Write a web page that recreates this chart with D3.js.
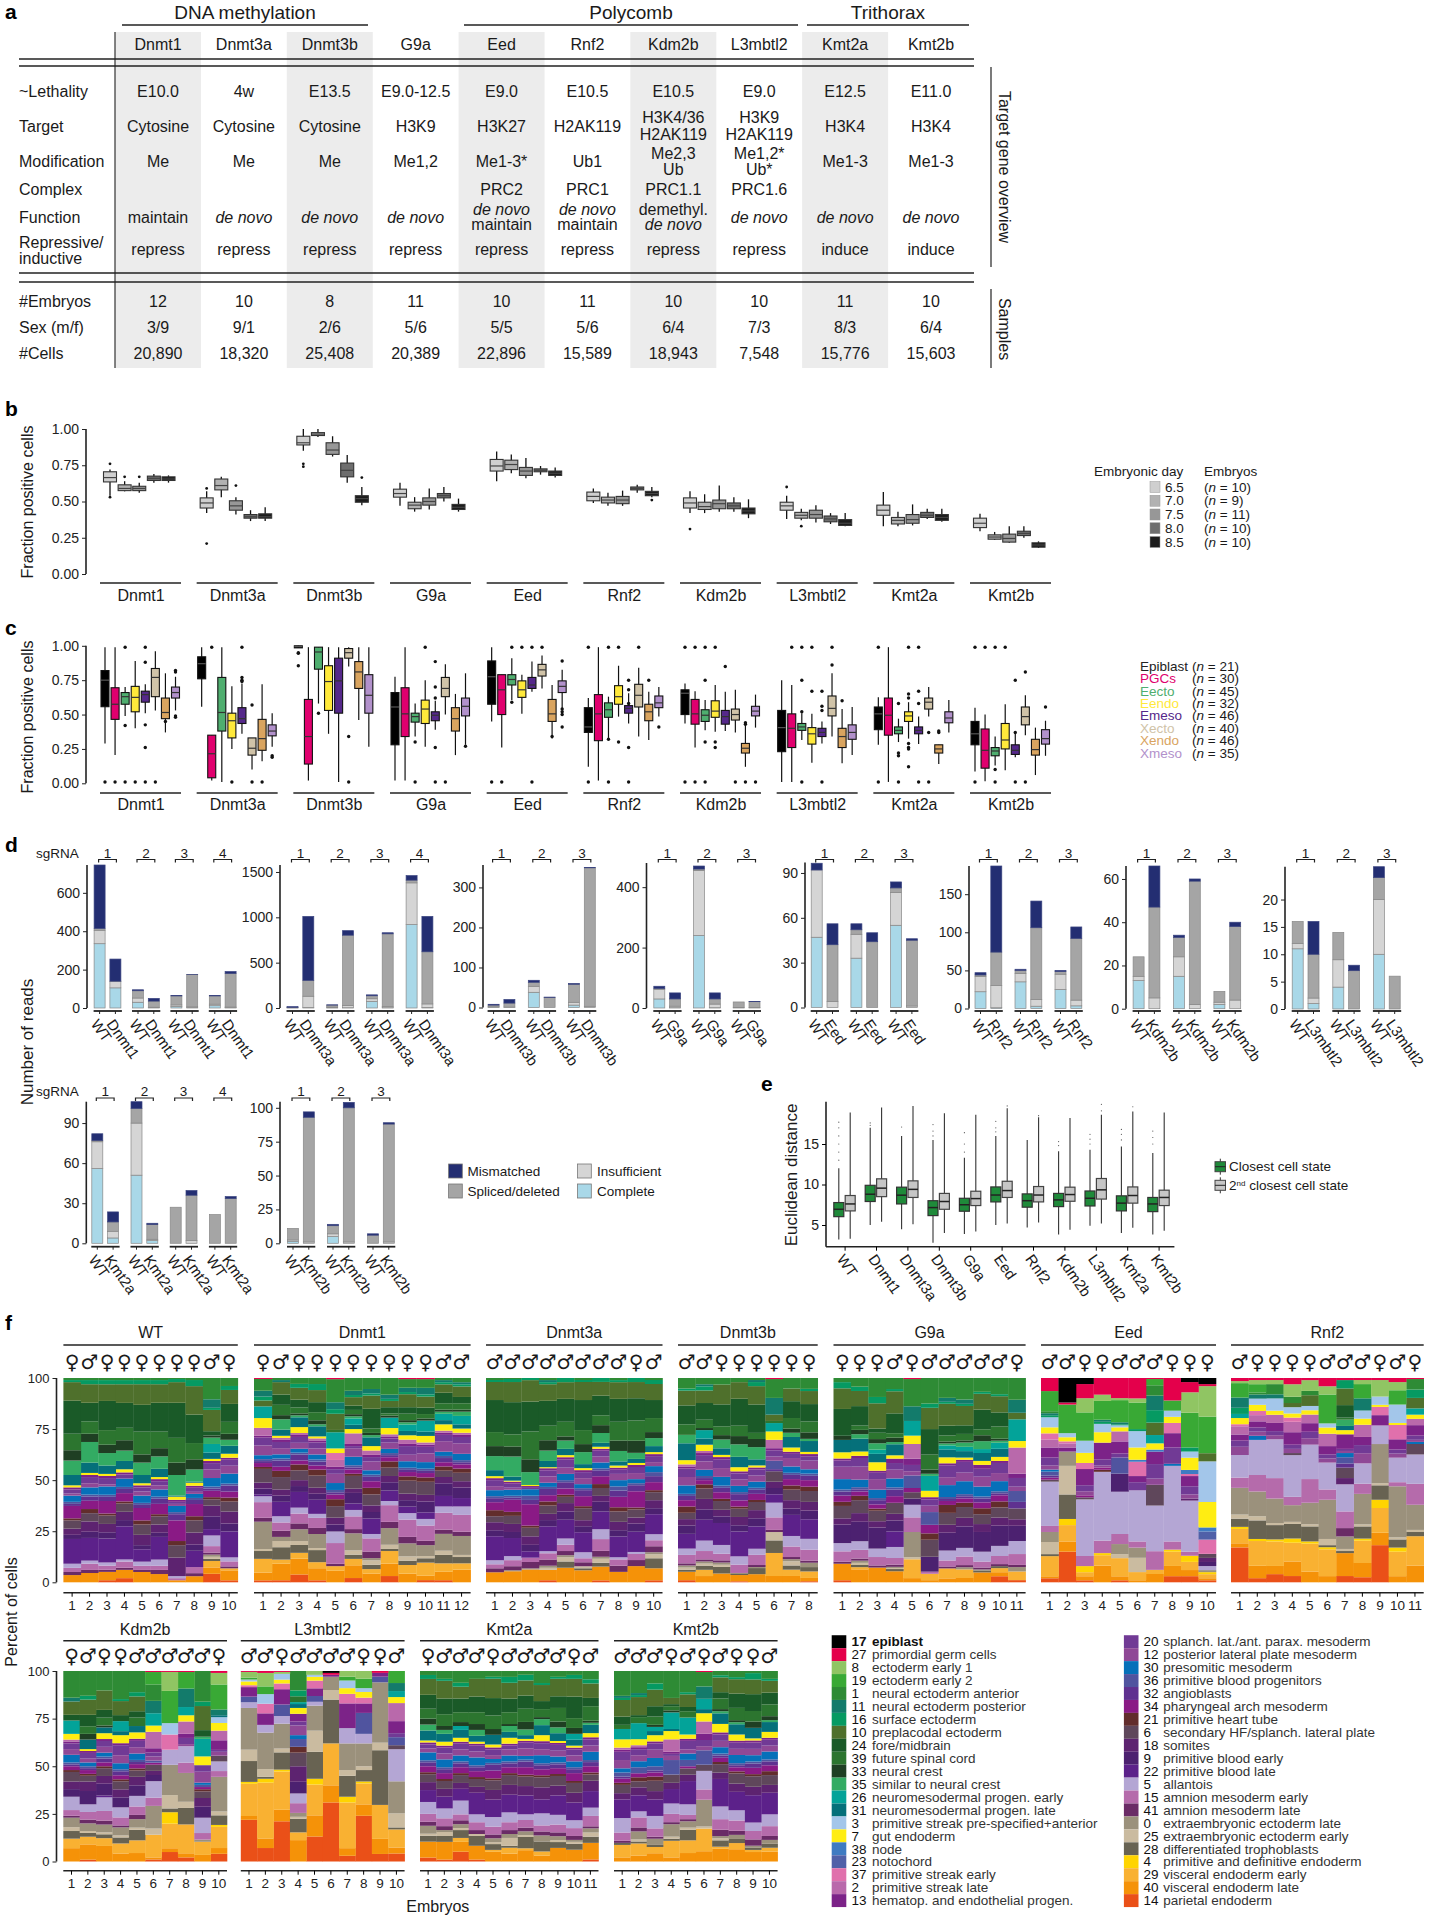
<!DOCTYPE html>
<html><head><meta charset="utf-8"><style>html,body{margin:0;padding:0;background:#fff}svg{display:block}text{font-family:"Liberation Sans",Arial,sans-serif;fill:#1a1a1a}</style>
<script src="https://cdn.jsdelivr.net/npm/d3@7"></script></head><body><script>
// ---------- panel a ----------
const genes=["Dnmt1","Dnmt3a","Dnmt3b","G9a","Eed","Rnf2","Kdm2b","L3mbtl2","Kmt2a","Kmt2b"];
const aGroups=["DNA methylation","Polycomb","Trithorax"];
const aLethality=["E10.0","4w","E13.5","E9.0-12.5","E9.0","E10.5","E10.5","E9.0","E12.5","E11.0"];
const aTarget=["Cytosine","Cytosine","Cytosine","H3K9","H3K27","H2AK119","H3K4/36|H2AK119","H3K9|H2AK119","H3K4","H3K4"];
const aModification=["Me","Me","Me","Me1,2","Me1-3*","Ub1","Me2,3|Ub","Me1,2*|Ub*","Me1-3","Me1-3"];
const aComplex=["","","","","PRC2","PRC1","PRC1.1","PRC1.6","",""];
const aFunction=["maintain","de novo","de novo","de novo","de novo|maintain","de novo|maintain","demethyl.|de novo","de novo","de novo","de novo"];
const aRepress=["repress","repress","repress","repress","repress","repress","repress","repress","induce","induce"];
const aEmbryos=["12","10","8","11","10","11","10","10","11","10"];
const aSex=["3/9","9/1","2/6","5/6","5/5","5/6","6/4","7/3","8/3","6/4"];
const aCells=["20,890","18,320","25,408","20,389","22,896","15,589","18,943","7,548","15,776","15,603"];
// ---------- panel b: q1, median, q3, low, high, outliers ----------
const bDays=["6.5","7.0","7.5","8.0","8.5"];
const bN=["10","  9","11","10","10"];
const bColors=["#cfcfcf","#b2b2b2","#979797","#6e6e6e","#1c1c1c"];
const bDnmt1=[[.635,.665,.705,.54,.72,.76,.53],[.575,.59,.615,.57,.64,.67],[.575,.59,.605,.56,.63,.67],[.645,.66,.675,.63,.69],[.645,.655,.67,.63,.68]];
const bDnmt3a=[[.455,.49,.525,.42,.57,.59,.21],[.58,.61,.655,.53,.67],[.44,.47,.505,.41,.53,.61],[.385,.395,.41,.365,.44],[.385,.395,.415,.365,.46]];
const bDnmt3b=[[.89,.905,.95,.85,1,.74,.76],[.955,.965,.975,.945,1],[.825,.855,.905,.81,.95],[.67,.715,.765,.63,.82],[.495,.52,.54,.475,.6,.665]];
const bG9a=[[.53,.555,.585,.47,.63],[.45,.475,.495,.43,.53],[.475,.5,.525,.445,.59],[.525,.54,.555,.5,.6],[.445,.46,.48,.43,.52]];
const bEed=[[.71,.745,.79,.64,.845],[.72,.755,.785,.695,.825],[.68,.71,.735,.66,.8],[.705,.715,.725,.685,.745],[.68,.695,.71,.665,.735]];
const bRnf2=[[.505,.535,.565,.49,.59],[.49,.51,.53,.47,.56],[.485,.51,.535,.47,.575],[.58,.59,.6,.56,.615],[.54,.555,.57,.53,.6,.51]];
const bKdm2b=[[.455,.49,.525,.42,.57,.31],[.445,.465,.495,.42,.55],[.45,.485,.51,.43,.61],[.45,.47,.49,.43,.53],[.415,.435,.455,.385,.515]];
const bL3mbtl2=[[.44,.47,.495,.38,.54,.6],[.385,.405,.425,.37,.45,.33],[.385,.41,.44,.355,.475],[.36,.38,.4,.345,.42],[.335,.35,.375,.33,.42]];
const bKmt2a=[[.405,.44,.475,.33,.565],[.345,.37,.39,.33,.43],[.35,.375,.41,.335,.48],[.39,.405,.425,.38,.45],[.37,.39,.41,.36,.45]];
const bKmt2b=[[.32,.35,.385,.295,.415],[.24,.255,.27,.235,.29],[.22,.245,.275,.215,.33],[.265,.28,.295,.25,.33],[.185,.2,.215,.18,.225]];
const bSeries=[bDnmt1,bDnmt3a,bDnmt3b,bG9a,bEed,bRnf2,bKdm2b,bL3mbtl2,bKmt2a,bKmt2b];
// ---------- panel c ----------
const cTypes=["Epiblast","PGCs","Eecto","Eendo","Emeso","Xecto","Xendo","Xmeso"];
const cLegendLabels=["Epiblast","PGCs","Eecto","Eendo","Emeso","Xecto","Xendo","Xmeso"];
const cN=["21","30","45","32","46","40","46","35"];
const cColors=["#000000","#e0006e","#4fae6f","#ffe93b","#55288a","#d0c3a8","#d9a45f","#b291cb"];
const cDnmt1=[[.557,.75,.82,.29,.99,.01],[.465,.575,.695,.205,.99,.01],[.575,.63,.66,.49,.7,.99,.42,.01],[.52,.625,.705,.4,.89,.01],[.59,.645,.67,.51,.72,.99,.88,.425,.26,.01],[.63,.77,.835,.53,.96,.01],[.47,.515,.62,.37,.8,.45],[.62,.66,.7,.53,.775,.82,.81,.49,.48]];
const cDnmt3a=[[.76,.87,.92,.557,.99],[.04,.215,.35,.02,.35,.99],[.38,.515,.77,.01,.99],[.33,.455,.51,.25,.705,.01],[.435,.47,.55,.36,.725,.99,.77,.75,.74],[.205,.255,.33,.1,.33,.57,.01],[.24,.325,.465,.16,.72,.01],[.345,.38,.425,.265,.51,.2,.19]];
const cDnmt3b=[[.985,.995,1,.985,1,.95,.945,.855],[.14,.34,.61,.02,.99],[.83,.955,.99,.58,.99,.51],[.53,.74,.855,.36,.99],[.51,.745,.91,.01,.99],[.91,.95,.98,.85,.99,.34,.01],[.69,.81,.885,.46,.99,.83,.8,.78,.77,.75],[.51,.64,.79,.265,.99]];
const cG9a=[[.28,.555,.66,.02,.775],[.34,.505,.695,.02,.99],[.445,.485,.51,.34,.58,.3,.01],[.435,.54,.605,.265,.75,.99],[.455,.495,.52,.39,.6,.885,.7,.62,.26,.01],[.63,.69,.77,.5,.865,.01],[.38,.47,.55,.205,.65],[.49,.56,.62,.28,.8,.27]];
const cEed=[[.575,.775,.89,.45,.99,.01],[.5,.68,.79,.26,.79,.01],[.715,.755,.79,.605,.91,.99,.59],[.625,.68,.745,.505,.79,.99],[.69,.715,.77,.665,.885,.99,.01],[.78,.825,.865,.69,.93,.99],[.45,.505,.61,.325,.715,.34],[.66,.705,.745,.545,.825,.89,.54,.52,.5,.41]];
const cRnf2=[[.37,.41,.55,.12,.62,.99,.01],[.31,.505,.645,.02,.99],[.48,.535,.585,.33,.63,.99,.32,.01],[.575,.63,.71,.485,.855,.99,.3],[.51,.545,.565,.435,.655,.75,.68,.58,.26,.01],[.555,.64,.72,.34,.84,.99],[.455,.52,.575,.315,.665,.75],[.55,.585,.635,.485,.7,.41]];
const cKdm2b=[[.5,.655,.68,.435,.725,.99,.01],[.43,.505,.61,.26,.67,.99,.01],[.45,.495,.535,.385,.605,.99,.75,.3,.01],[.48,.525,.6,.375,.715,.99,.3,.26],[.43,.485,.53,.38,.665,.85],[.46,.5,.54,.37,.68,.01],[.22,.255,.29,.12,.425,.44,.43,.01],[.49,.525,.56,.405,.645,.01]];
const cL3mbtl2=[[.23,.405,.53,.01,.75],[.26,.4,.505,.01,.715,.99],[.385,.41,.435,.315,.51,.99,.75,.52,.01],[.285,.36,.405,.15,.505,.99,.67],[.34,.37,.4,.29,.45,.67,.56,.53,.01],[.49,.545,.635,.34,.8,.99,.86],[.26,.34,.4,.145,.54,.6],[.32,.37,.425,.205,.555]];
const cKmt2a=[[.39,.505,.555,.28,.625,.99,.01],[.35,.495,.62,.01,.99],[.36,.385,.41,.3,.47,.58,.22,.2,.01],[.45,.49,.52,.325,.59,.99,.65,.62,.29,.26,.25,.12],[.36,.385,.41,.285,.485,.99,.67,.58,.01],[.54,.59,.62,.485,.7,.37,.01],[.22,.25,.28,.14,.28,.38,.37],[.44,.475,.52,.37,.605]];
const cKmt2b=[[.28,.36,.45,.085,.55,.99,.01],[.11,.24,.395,.015,.5,.99],[.2,.235,.26,.13,.34,.99,.1,.01],[.25,.315,.435,.095,.575,.99],[.21,.24,.28,.19,.37,.75,.37,.01],[.425,.485,.555,.35,.64,.81,.01],[.205,.245,.32,.06,.405],[.285,.325,.39,.2,.455,.555]];
const cSeries=[cDnmt1,cDnmt3a,cDnmt3b,cG9a,cEed,cRnf2,cKdm2b,cL3mbtl2,cKmt2a,cKmt2b];
// ---------- panel d: complete, insufficient, spliced, mismatched ----------
const dKeys=["Complete","Insufficient","Spliced/deleted","Mismatched"];
const dColors=["#a9d8e8","#d5d5d5","#a5a5a5","#232e72"];
const dDnmt1=[[335,70,10,330],[105,33,2,115],[30,22,38,5],[2,2,32,14],[8,8,47,2],[2,4,168,1],[12,8,43,2],[2,3,175,10]];
const dDnmt3a=[[2,2,3,8],[5,125,175,705],[3,7,22,3],[3,25,775,50],[72,30,33,10],[3,15,800,12],[920,460,30,50],[5,40,575,390]];
const dDnmt3b=[[1,1,4,2],[0,1,10,9],[38,15,10,5],[0,0,25,1],[6,7,45,2],[0,3,346,1]];
const dG9a=[[30,32,3,7],[1,5,24,20],[240,215,5,10],[1,12,17,20],[0,2,18,0],[0,2,19,1]];
const dEed=[[47,45,0,4.5],[0,4,38,14],[33,16,3,4],[0,0,44,6],[55,22,3,4],[0,1,44,1]];
const dRnf2=[[22,20,2,3],[1,29,44,113],[35,11,4,1.5],[3,9,94,35],[25,20,3.5,1.5],[3.5,7.5,81,15]];
const dKdm2b=[[13,2,9,0],[0,5,42,19],[15,9,9,1],[0,2,57,1],[2,1,5,0],[0,4,34,2]];
const dL3mbtl2=[[11,1,4,0],[1,1,8,6],[4,5,5,0],[0,0,7,1],[10,10,4,2],[0,0,6,0]];
const dKmt2a=[[56,20,1,5],[4,5,7,7.5],[51,39,11,5],[2,1,11,1],[0,0,27,0],[0,2,34,3.5],[0,0,21.5,0],[0,0,33.5,1.5]];
const dKmt2b=[[1.5,1,8.5,0],[0,1,92,4],[5,2,6,1],[0,1,99,4],[0,0,6,1],[0,1,87,1]];
const dTicks1=[0,200,400,600],dTicks2=[0,500,1000,1500],dTicks3=[0,100,200,300],dTicks4=[0,200,400],dTicks5=[0,30,60,90],dTicks6=[0,50,100,150],dTicks7=[0,20,40,60],dTicks8=[0,5,10,15,20],dTicks9=[0,30,60,90],dTicks10=[0,25,50,75,100];
// ---------- panel e: q1, median, q3, low, high, outliers ----------
const eGroups=["WT","Dnmt1","Dnmt3a","Dnmt3b","G9a","Eed","Rnf2","Kdm2b","L3mbtl2","Kmt2a","Kmt2b"];
const eClosest=[[6.03,6.94,7.77,3.2,12,13,14,15,16,17,17.7],[7.9,8.8,9.9,5,17,17.3,17.6],[7.6,8.68,9.67,4.46,16,17.1],[6.16,7.15,8,2.8,15.5,16,16.6,17.4],[6.7,7.5,8.3,3.9,13.3,14,15,16.4],[7.85,8.7,9.7,5,16,16.5,17,17.8],[7.2,8,8.84,4.7,15.5],[7.27,8.1,8.9,3.84,14.1,14.8,15.3],[7.35,8.3,9.2,4.9,14.3,15,15.6,16.2],[6.74,7.7,8.6,4,14.7,15.5,16.2,16.8],[6.65,7.6,8.4,3.84,13.9,15,15.8,16.6]];
const eSecond=[[6.74,7.6,8.64,3.3,18.9],[8.5,9.55,10.7,5.4,19.5],[8.4,9.4,10.45,5.1,19.7],[6.94,7.9,8.9,4,18.8],[7.4,8.26,9.17,4.2,18.6],[8.4,9.25,10.4,5.2,19.4,19.7],[7.85,8.7,9.75,5.3,18.3,18.5],[7.93,8.76,9.67,4.4,18.2],[8.2,9.34,10.74,5.2,18.6,19.1,19.9],[7.7,8.64,9.7,4.67,19,19.6],[7.4,8.4,9.3,4.3,18.9]];
// ---------- panel f ----------
const stateIds=[17,27,8,19,1,11,16,10,24,39,33,35,26,31,3,7,38,23,37,2,13,20,12,30,36,32,34,21,6,18,9,22,5,15,41,0,25,28,4,29,40,14];
const stateNames=["epiblast","primordial germ cells","ectoderm early 1","ectoderm early 2","neural ectoderm anterior","neural ectoderm posterior","surface ectoderm","preplacodal ectoderm","fore/midbrain","future spinal cord","neural crest","similar to neural crest","neuromesodermal progen. early","neuromesodermal progen. late","primitive streak pre-specified+anterior","gut endoderm","node","notochord","primitive streak early","primitive streak late","hematop. and endothelial progen.","splanch. lat./ant. parax. mesoderm","posterior lateral plate mesoderm","presomitic mesoderm","primitive blood progenitors","angioblasts","pharyngeal arch mesoderm","primitive heart tube","secondary HF/splanch. lateral plate","somites","primitive blood early","primitive blood late","allantois","amnion mesoderm early","amnion mesoderm late","extraembryonic ectoderm late","extraembryonic ectoderm early","differentiated trophoblasts","primitive and definitive endoderm","visceral endoderm early","visceral endoderm late","parietal endoderm"];
const stateColors=["#000000","#e4004b","#90c563","#39a935","#2e8b35","#137b6b","#069a62","#4f702c","#1a5a28","#2c752f","#1f3f23","#33ab63","#03a399","#05707a","#a3c6ea","#ffed12","#3f7bc2","#5060a8","#e070ac","#b969ab","#7c2388","#713a95","#8f4896","#0670b9","#50549f","#5f3190","#8a1a85","#622d2c","#5f475b","#5d2370","#4c2170","#5c218a","#b4a6d4","#b56bab","#6a2b66","#9b917c","#cabba0","#686352","#ffd400","#f9b132","#f59208","#ea5018"];
const fWT=[
[0,0,0,0,1,0,1, 9,16,8,5,7,0,5, 0,1,0,0,0,0, 1,2,1,3,1,1,6, 1,4,3,2,12, 2,2,1.5, 0,0,0, 0,0,3.5,0],
[0,0,0,0,1,0,2, 9,9,6,4,10,0,5, 0,1,0,0,0,0, 1,3,2,3.5,1,2,4, 2,4,5,3,11, 1.5,3,1.5, 0,0,0, 0,0,4.5,0],
[0,0,0,0,1,0,2, 8,14,7,4,6,0,4, 0,1,0,0,0,0, 1,3,1,4,1,2,6, 1,4,4,3,11.5, 1.5,2,1, 0,0,0, 0,0,4,1],
[0,0,0,0,1,0,2, 9,12,6,5,5,0,4, 0,1.5,0,0,0,0, 1,2,0,4,1,2,4, 1,4,4,3,16, 1,3,1, 0,0,0, 0,0,4,2],
[0,0,0,0,1,0,2, 10,13,11,4,6,0,4, 0,1,0,0,0,0, 1,2,2,3.5,1,1.5,6, 2,5,5,2,6, 2,2,1, 0,0,0, 0,0,5,0],
[0,0,0,0,1,0,2, 9,14,8,4,6,0,4, 0,1,0,0,0,0, 1,2,2,3.5,1,2.5,5, 1,4,4,2,11, 3,2,2, 0,0,0, 0,0,4,0],
[0,0,0,0,.5,0,1.5, 10,17,12,6,10,0,.5, 0,1.5,0,0,0,0, 1,1,1,3,1,3,10, 2,6,9,0,0, 1,1,0, 0,0,0, 0,0,1,0],
[0,0,0,0,1,0,3, 14,14,8,5,6,0,.5, 0,1.5,0,0,0,0, 1,2,1,2,1,2,6, 2,6,6,3,8, 0,3,1.5, 0,0,0, 0,0,3,0],
[0,0,0,0,10,4,1, 10,2,0,1,3,4,3, 0,1,0,0,0,0, 1,3,4,4,1,1,3, 1,3,5,6,3, 5,3,1, 1,1,1, 0,3,3,4],
[0,0,0,0,4,0,2, 7,9,6,3,3,0,4, 0,2,0,0,0,0, 1,3,4,5,1,3,3, 2,5,6,4,13, 2,2.5,1, 0,0,0, 0,1,5,1]];
const fDnmt1=[
[0,.5,0,0,6,3,2, 3,0,0,0,0,6,0, 0,5,0,0,0,4, 1,4,5,2,1,1,2, 1,7,3,3,1, 3,8,2, 14,1,4, 0,7,4,1],
[0,0,0,0,1,1,0, 6,5,5,2,5,0,3, 0,1,0,0,0,1, 1,3,3,2,1,3,2, 3,6,3,3,7, 3,4,3, 2,3,6, 0,2,8,1],
[0,0,0,0,3,0,2, 6,4,3,1,1,0,5, 0,3,0,0,0,1, 1,3,3,2,1,3,2, 3,5,3,3,8, 3,5,3, 6,2,4, 0,3,8,4],
[0,0,0,0,3,0,3, 6,5,4,2,1,0,5, 0,1,0,0,0,1, 1,3,3,2.5,1,2,2, 3,6,3,3,7, 2,5,3, 7,1,6, 0,3,6,1],
[0,.5,0,0,10,3,2, 7,0,1,0,0,7,0, 0,2,0,0,3,3, 1,2,4,3,1,1,2, 3,5,3,3,0, 5,9,1, 0,0,0, 0,2,5,0],
[0,0,0,0,6,2,1, 4,2,2,1,1,3,2, 0,2,0,0,0,5, 1,1,4,4,1,1,2, 1,6,2,5,3, 3,6,2, 8,2,2, 0,3,6,2],
[0,0,0,0,5,2,1, 6,9,2,1,1,0,4, 0,2,0,0,0,2, 1,2,4,2,1,2,3, 3,5,3,3,7, 2,6,3, 1,2,2, 0,2,4,0],
[0,0,0,0,8,2,1, 3,3,1,1,0,5,0, 0,3,0,0,0,1, 1,2,3,2,1,1,2, 3,4,3,4,5, 2,8,3, 8,2,1, 0,6,6,3],
[0,.5,0,0,4,2,1, 6,3,3,1,1,3,2, 0,2,0,0,0,2, 1,4,3,3,1,1,2, 2,6,3,3,3, 3,8,3, 6,2,2, 0,4,4,0],
[0,.5,0,0,4,3,1, 5,3,2,1,0,5,2, 0,3,0,0,0,1, 1,3,4,3,1,1,2, 2,6,3,5,3, 3,7,2, 5,1,2, 0,6,2,1],
[0,0,0,0,1,1,1, 4,5,3,1,1,3,2, 0,3,0,0,0,1, 1,3,5,2,1,2,2, 2,3,3,6,5, 3,8,2, 8,2,4, 0,4,4,1],
[0,0,0,0,2,1,1, 5,3,3,1,2,4,2, 0,2,0,0,0,1, 1,3,5,3,1,1,2, 2,4,3,5,4, 4,8,2, 9,1,3, 0,3,6,0]];
const fDnmt3a=[
[0,0,0,0,1,0,1, 9,16,7,5,7,0,3, 0,1,0,0,0,0, 1,3,2,3,1,2,4, 3,3,4,3,12, 2,2,2, 0,0,0, 0,0,5,0],
[0,0,0,0,.5,0,1.5, 10,16,6,5,10,0,2, 0,.5,0,0,0,0, 1,2,1,3,1,1,6, 2,4,4,3,9, 2,3,2, .5,0,0, 0,0,5.5,0],
[0,0,0,0,0,0,1, 10,14,13,6,6,0,0, 0,.5,0,0,0,0, .5,1,0,3,2,2,10, 1,4,4,3,3, 0,2,3, .5,0,0, 0,0,6,0],
[0,0,0,0,1,1,1, 8,12,7,5,5,0,3, 0,.5,0,0,0,0, 1,3,3,2,1,3,3, 2,4,3,3,12, 1,3,3, 1,1,0, 0,0,5,1],
[0,0,0,0,0,0,2, 8,11,7,2,4,0,3, 0,1,0,0,0,0, 1,4,3,3,1,3,3, 1,3,4,4,9, 3,3,2, 1,2,3, 0,0,7,0],
[0,0,0,0,1,0,1, 9,15,7,4,6,0,2, 0,1,0,0,0,0, 1,3,3,2,1,3,5, 1,6,3,3,10, 3,2,2, 0,1,1, 0,0,6,0],
[0,0,0,0,0,0,2, 7,10,5,4,5,0,2, 0,1,0,0,0,0, 1,3,3,3,1,3,4, 2,4,3,5,9, 5,6,3, 1,2,2, 0,0,7,1],
[0,0,0,0,1,0,1, 8,11,9,5,5,0,2, 0,1,0,0,0,0, 1,2,3,3,2,3,5, 2,5,4,3,10, 1,3,3, 0,0,0, 0,0,5,0],
[0,0,0,0,0,0,2, 8,11,10,6,3,0,2, 0,1,0,0,0,0, 1,3,3,2,1,3,8, 1,4,3,4,10, 1,3,3, 0,0,0, 0,0,8,0],
[0,0,0,0,1,0,2, 8,9,7,3,4,0,3, 0,1,0,0,0,0, 1,3,2,3,2,3,4, 1,4,4,3,10, 3,3,3, 1,2,5, 0,0,6,1]];
const fDnmt3b=[
[0,0,0,0,5,0,1, 7,9,5,0,4,0,8, 0,2,0,0,0,1, 1,4,4,4,1,2,3, 3,3,3,4,7, 3,4,1, 1,1,1, 0,0,4,1],
[0,0,0,0,3,1,2, 6,8,4,1,0,4,3, 0,3,0,0,0,1, 1,3,4,3,1,1,2, 2,5,5,5,10, 5,4,1, 1,1,2, 0,3,3,0],
[0,0,0,0,3,0,0, 9,10,4,2,4,0,3, 0,1,0,0,0,0, 1,4,4,4,1,2,3, 1,4,3,3,10, 4,3,1, 1,1,3, 0,0,4,0],
[0,0,0,0,2,0,0, 8,13,5,4,6,0,5, 0,2,0,0,0,0, 1,3,3,3,1,3,3, 1,4,4,3,12, 4,4,0, .5,0,.5, 0,0,3,.5],
[0,0,0,0,1,1,2, 9,14,3,4,6,0,3, 0,1,0,0,0,0, 1,3,3,3,1,2,3, 1,4,4,4,11, 3,5,1, .5,0,3, 0,0,4,0],
[0,.5,0,0,9,8,0, 3,0,1,0,0,4,0, 0,4,0,0,0,4, 1,3,2,0,4,1,0, 0,5,3,3,4, 7,6,1, 0,4,6, 0,11,3,0],
[0,0,0,0,5,0,0, 6,8,5,2,2,0,5, 0,2,0,0,0,0, 1,2,4,3,1,2,3, 2,5,4,3,10, 5,5,1, 1,2,2, 0,3,3,0],
[0,0,0,0,5,0,1, 6,8,5,3,1,0,5, 0,1,0,0,0,0, 1,2,4,2,1,2,3, 2,5,4,4,9, 5,5,1, 2,0,2, 0,3,1.5,.5]];
const fG9a=[
[0,0,0,0,2,0,3, 10,13,0,2,0,0,6, 0,3,0,0,0,0, 1,3,6,5,1,2,3, 2,6,3,9,0, 4,5,1, 0,0,0, 0,0,8,1],
[0,0,0,0,4,0,2, 7,9,2,2,2,0,6, 0,2,0,0,0,0, 1,4,6,3.5,1,1,2, 2,6,4,9,0, 4,4,1, 1,1,1, 0,1,6,0],
[0,0,0,0,9,0,3, 12,2,3,2,3,2,4, 0,4,0,0,0,0, 1,3,5,4,1,2,2, 1,5,3,10,0, 4,4,1, 0,0,0, 0,0,7,0],
[0,0,0,0,5,0,1, 10,9,2,2,1,0,5, 0,1.5,0,0,0,0, 2,3,4,4,1,3,3, 0,5,3,5,7, 5,3,1, .5,.5,1, 0,0,5,0],
[0,.5,0,0,13,7,0, 0,0,0,0,0,7,0, 0,4,0,0,0,7, 3,3,2,0,6,0,2, 0,3,0,3,0, 6,7,0, 12,1,0, 0,9,2,0],
[0,0,0,0,12,0,2, 10,12,7,2,1,7,0, 0,3,0,0,0,0, 1,3,3,0,6,0,4, 3,8,0,7,0, 0,1,0, 0,0,0, 0,3,1,0],
[0,0,0,0,10,2,1, 11,5,3,1,1,2,4, 0,3,0,0,0,0, 1,6,4,6,1,1,2, 4,6,4,9,0, 5,3,1, 0,0,0, 0,5,2,0],
[0,0,0,0,10,2,1, 9,4,3,1,2,2,3, 0,1,0,0,0,0, 1,5,4,6,1,1,2, 2,5,4,10,0, 4,4,1, 1,0,0, 0,4,2,0],
[0,0,0,0,7,0,1, 8,10,3,3,4,2,4, 0,2,0,0,0,0, 2,4,5,5,1,2,3, 3,5,4,10,0, 5,3,1, .5,0,1, 0,0,5,0],
[0,0,0,0,8,0,1, 8,7,6,1,1,3,4, 0,2,0,0,0,0, 1,5,4,5,1,1,3, 3,5,4,10,0, 5,4,1, 0,0,1, 0,2,2,3],
[0,0,0,0,10,6,0, 3,0,0,0,0,10,0, 0,3,0,0,0,12, 2,4,2,0,5,3,0, 0,5,3,7,0, 6,5,1, 2,0,0, 0,4,0,1]];
const fEed=[
[0,6.5,0,10,1,1,1, 0,0,0,0,0,0,0, 5,3,0,0,3,4, 5,4,2,1,2,1,1, 0,1,0,0,0, 22,3,0, 5,6,1, 0,10,1,2],
[12,1,0,14,0,0,0, 0,0,0,0,0,0,0, 2,2,0,0,1,2, 2,0,0,0,0,0,0, 0,0,0,0,0, 0,0,0, 7,14,12, 3,8,5,15],
[3,7,7,14,0,0,0, 0,0,0,0,0,0,0, 6,5,0,0,3,0, 8,3,2,0,0,0,1, 0,1,0,0,0, 28,5,0, 0,0,0, 3,2,2,1],
[0,8,3,9,0,1,1, 0,0,0,0,0,0,0, 4,5,0,0,0,0, 8,3,1,0,0,0,1, 1,0,0,0,0, 33,6,0, 0,0,0, 1,5,8,0],
[0,10,1,11,0,1,.5, 0,0,0,0,0,0,0, 1,2,0,0,0,5, 6,2,0,0,8,0,0, 0,0,0,9,0, 21,5,0, 5,2,0, 0,9,2,1],
[0,10,2,13,0,0,1, 0,0,0,0,0,0,0, 8,6,1,0,7,0, 3,4,0,0,0,0,0, 0,0,0,0,0, 25,3,0, 5,7,0, 0,4,1,0],
[0,.5,0,3,5,7,6, 6,0,0,0,0,4,0, 0,3,1,0,0,0, 6,7,3,0,0,0,0, 0,10,0,0,0, 22,9,0, 0,0,0, 0,2,4,0],
[0,11,0,5,0,0,0, 0,0,0,0,0,0,0, 3,3,0,0,5,0, 7,8,0,1,0,0,0, 0,0,0,0,0, 37,4,0, 0,0,0, 1,7,5,3],
[2,5,10,17,0,0,2, 0,0,0,0,0,0,0, 3,6,2,0,1,0, 5,4,2,0,0,0,0, 0,0,1,0,0, 25,2,0, 0,0,0, 3,4,3,3],
[3,1,15,18,0,0,0, 4,0,0,0,0,0,0, 20,12.5,2,4,7,0, 0,0,0,0,0,0,0, 0,2,2,2,0, 2,0,0, 1,0,0, 1,2,1,1]];
const fRnf2=[
[0,1.5,1,7,0,5,3, 0,0,0,0,0,2,0, 0,3,0,0,1,4, 3,3,4,0,0,0,0, 0,0,0,0,0, 11,5,0, 13,2,4, 1,7,2,17],
[0,1,2,4,1,2,0, 0,0,0,0,0,0,0, 3,3,0,0,2,3, 3,2,2,2,0,0,0, 0,0,0,0,0, 17,8,0, 12,2,9, 1,12,6,2],
[0,1,2,0,5,2,0, 0,0,0,0,0,0,0, 6,2,0,0,0,4, 4,2,2,0,0,0,0, 0,0,0,0,0, 19,10,0, 12,1,7, 1,12,4,4],
[0,3,6,0,3,0,0, 2,0,0,0,0,0,0, 3,2,0,0,2,5, 6,2,2,0,0,0,0, 0,1,0,0,0, 20,4,0, 8,1,7, 2,9,7,3],
[0,1,5,0,2,0,0, 5,0,0,0,0,0,0, 2,2,0,0,0,4, 4,3,3,0,0,0,0, 0,0,0,0,0, 16,11,0, 10,1,7, 1,13,5,0],
[0,4,4,14,0,0,0, 0,0,0,0,0,0,0, 2,3,0,0,0,6, 4,2,2,0,0,0,0, 0,0,0,0,0, 13,5,0, 19,3,1, 1,13,3,0],
[0,1,0,0,0,0,4, 8,6,1,0,3,0,2, 0,2,0,0,0,0, 7,1,1,2,3,2,0, 0,5,3,0,0, 13,8,4, 6,1,1, 0,0,11,3],
[0,1,2,7,0,6,0, 0,0,0,0,0,0,0, 4,3,0,0,0,6, 4,4,5,0,0,0,0, 0,0,0,0,0, 10,5,0, 15,1,6, 1,11,7,2.5],
[0,1,8,0,0,0,0, 0,0,0,0,0,0,0, 4,1,0,0,4,0, 5,0,0,0,0,0,0, 0,0,0,0,0, 9,0,0, 19,1,7, 4,12,6,18],
[0,2,4,7,0,0,0, 0,0,0,0,0,0,0, 9,1,0,0,7,0, 5,2,2,0,0,0,0, 0,0,0,0,0, 12,2,0, 25,1,4, 2,12,3,0],
[0,.5,0,0,5,0,4, 5,0,0,0,0,3,0, 0,2,0,0,0,3, 5,2,1,1,0,0,0, 0,5,0,0,0, 14,10,0, 12,1,2, 0,14,8,0]];
const fKdm2b=[
[0,0,0,0,14,2,0, 7,3,0,0,0,7,0, 0,3,0,0,0,1, 1,3,3,4,1,1,2, 1,5,4,4,0, 7,3,1, 5,2,4, 0,5,7,0],
[0,0,0,0,13,0,2, 8,6,4,3,0,0,5, 0,1,0,0,0,0, 1,3,2,2,1,1,2, 1,3,5,7,0, 4,4,2, 4,1,2, 0,4,8,1],
[0,0,0,0,10,0,0, 10,4,4,1,0,0,3, 0,3,0,0,0,0, 1,3,3,2,1,2,2, 1,4,4,6,1, 7,5,2, 4,1,2, 0,4,8,0],
[0,0,0,0,14,0,1, 7,3,0,0,0,5,2, 0,4,0,0,0,0, 1,5,4,3,1,2,2, 1,4,4,5,0, 5,4,1, 4,1,3, 0,5,4,0],
[0,0,0,0,10,0,2, 7,3,4,0,0,0,3, 0,3,0,0,0,0, 1,3,3,3,1,1,2, 1,3,4,5,0, 5,4,2, 4,1,5, 0,6,4,0],
[0,.5,0,6,8,6,0, 0,0,0,0,0,6,0, 0,3,0,0,0,8, 2,2,2,0,1,0,1, 0,3,2,3,0, 8,4,0, 11,3,0, 0,11,1,1],
[0,.5,10,17,0,0,0, 0,0,0,0,0,0,0, 6,0,0,0,8,0, 0,0,0,0,0,0,0, 0,0,0,0,0, 8,0,0, 16,7,2, 6,13,2,5],
[0,.5,0,8,0,9,0, 0,0,0,0,0,4,0, 0,3,0,0,0,6, 2,3,1,0,0,0,0, 0,0,0,0,0, 8,5,0, 14,3,8, 0,14,2,2],
[0,0,0,0,14,0,2, 11,3,0,0,1,8,0, 0,4,0,0,0,0, 0,3,5,1,1,0,1, 1,3,4,5,0, 7,3,0, 1,0,0, 0,6,3,0],
[0,1,6,13,0,3,0, 0,0,0,0,0,0,1, 3,4,0,0,0,5, 5,1,2,0,0,0,0, 0,3,0,0,0, 5,3,0, 18,2,5, 1,11,3,4]];
const fL3mbtl2=[
[0,.5,3,1,0,0,0, 0,0,0,0,0,0,0, 1,2,0,0,1,0, 5,0,0,0,3,0,0, 0,0,0,0,0, 3,0,0, 22,6,11, 1,17,2,22],
[0,1,7,4,0,0,0, 0,0,0,0,0,0,0, 5,0,0,0,5,0, 6,0,0,0,0,0,0, 0,0,0,0,0, 4,0,0, 19,4,1, 2,29,5,7],
[0,.5,1,0,0,0,0, 0,0,0,0,0,0,0, 3,2,0,0,3,0, 8,0,0,0,6,0,0, 0,0,0,0,0, 4,0,0, 13,2,9, 1,20,6,21],
[0,0,0,0,10,0,3, 0,0,3,0,0,1,2, 0,3,0,0,0,0, 4,2,5,2,4,0,0, 3,7,8,6,0, 5,5,0, 2,1,7, 0,4,11,0],
[0,0,2,0,0,0,0, 0,0,0,0,0,0,0, 1,2,0,0,4,0, 4,0,0,0,3,0,0, 0,0,0,0,0, 2,0,0, 13,11,14, 3,16,11,13],
[1,1,0,0,0,0,0, 0,0,0,0,0,0,0, 0,0,0,0,0,0, 1,0,0,0,0,0,0, 0,0,0,0,0, 0,0,0, 7,5,23, 0,22,9,31],
[0,0,3,2,0,0,0, 0,0,0,0,0,0,0, 4,3,0,0,5,0, 13,0,0,0,0,0,0, 0,0,0,0,0, 8,0,0, 14,3,11, 3,24,4,3],
[0,0,4,5,0,0,0, 0,0,0,0,0,0,0, 2,3,0,0,3,0, 5,0,0,0,11,0,0, 0,0,0,0,0, 5,0,0, 12,2,6, 1,11,6,24],
[0,1,0,0,0,0,0, 0,0,0,0,0,0,0, 0,0,0,0,0,0, 2,0,0,0,3,0,0, 0,0,0,0,0, 0,0,0, 32,4,29, 0,18,8,4],
[0,0,0,6,0,4,0, 0,0,0,0,0,3,0, 0,3,0,0,0,9, 6,2,0,0,4,0,0, 0,2,0,0,0, 16,0,0, 16,7,1, 0,9,3,4]];
const fKmt2a=[
[0,0,0,0,2,0,2, 8,7,5,3,3,0,5, 0,1,0,0,0,0, 1,2,2,4,1,2,3, 1,4,4,0,6, 6,4,2, 4,1,3, 0,0,8,2],
[0,0,0,0,4,0,1, 9,8,6,2,2,0,4, 0,2,0,0,0,0, 1,3,3,4,1,2,3, 1,4,4,0,6, 5,4,2, 1,2,3, 0,0,9,1],
[0,0,0,0,6,0,2, 6,7,5,2,0,2,4, 0,2,0,0,0,0, 1,3,3,3,1,2,3, 1,4,3,0,6, 7,3,2, 2,1,4, 0,2,5,5],
[0,0,0,0,4,0,0, 9,8,6,3,3,0,3, 0,1,0,0,0,0, 1,3,3,4,1,2,3, 1,4,3,0,11, 4,4,2, 0,1,5, 0,0,7,1],
[0,0,0,0,3,0,1, 10,9,7,3,0,0,5, 0,1.5,0,0,0,0, 1,3,2,2,1,3,4, 1,5,5,0,9, 5,4,2, 2,1,3, 0,1,5,0],
[0,0,0,0,3,0,3, 8,7,6,1,3,0,3, 0,3,0,0,0,0, 1,2,3,3,1,2,3, 1,5,5,0,9, 5,4,2, 2,4,1, 0,3,4,0],
[0,0,0,0,2,0,3, 8,7,7,4,3,0,2, 0,1,0,0,0,0, 1,3,4,2,1,3,4, 1,5,5,0,10, 3,4,2, 2,1,6, 0,1,6,0],
[0,0,0,0,6,0,1, 8,4,4,1,3,0,5, 0,3,0,0,0,0, 1,3,3,4,1,2,3, 1,5,6,0,7, 6,3,2, 3,0,5, 0,2,3,0],
[0,0,0,0,3,0,1, 9,6,7,3,3,0,4, 0,1,0,0,0,0, 1,3,3,3,1,2,3, 1,5,5,0,10, 5,4,2, 2,1,3, 0,0,7,0],
[0,0,0,0,2,0,2, 9,11,5,3,0,3,3, 0,1,0,0,0,0, 1,3,3,3,1,2,4, 1,5,5,0,9, 4,4,2, 1,1,3, 0,0,6,0],
[0,0,0,0,4,0,2, 7,4,7,1,1,0,4, 0,2,0,0,0,0, 1,3,3,4,1,2,3, 1,3,5,0,8, 4,5,1, 2,2,3, 0,0,8,1]];
const fKmt2b=[
[0,0,0,0,12,1,1, 8,4,2,0,0,5,0, 0,4,0,0,0,1, 1,4,4,2,2,1,2, 1,4,3,0,9, 7,4,1, 0,0,1, 0,6,2,0],
[0,0,0,0,11,1,1, 9,1,3,0,0,8,0, 0,3,0,0,0,1, 1,3,3,3,3,0,2, 2,3,4,0,8, 3,5,2, 4,1,1, 0,6,3,0],
[0,0,0,0,6,0,3, 8,5,4,1,0,2,2, 0,3,0,0,0,0, 1,3,4,4,2,1,2, 2,5,4,0,8, 6,4,1, 3,0,1, 0,3,4,0],
[0,0,0,0,13,0,0, 3,1,2,1,0,8,1, 0,4,0,0,0,6, 1,1,2,0,7,0,0, 0,4,3,0,7, 5,4,1, 6,1,1, 0,8,2,0],
[0,0,0,0,10,0,1, 6,2,3,0,0,8,0, 0,2,0,0,0,0, 1,4,2,3,3,0,1, 0,3,3,0,11, 5,2,1, 3,1,5, 0,6,4,0],
[0,.5,0,0,7,6,0, 0,0,0,0,0,5,2, 0,4,0,0,0,6, 3,3,2,0,7,0,0, 0,3,0,0,0, 9,5,0, 13,1,0, 0,11,5,0],
[0,0,0,0,2,0,1, 7,3,5,1,1,0,5, 0,4,0,0,0,0, 1,3,3,3,1,1,2, 1,4,3,0,13, 6,5,3, 1,1,3, 0,1,6,0],
[0,0,0,0,3,0,1, 7,7,6,1,1,0,5, 0,3,0,0,0,0, 1,3,3,4,1,1,2, 1,5,4,0,9, 5,5,2, 2,0,2, 0,3,6,0],
[0,0,0,0,1,0,3, 7,8,5,3,0,0,5, 0,1,0,0,0,0, 1,3,3,3,1,2,3, 1,5,4,0,13, 4,4,3, 1,0,1, 0,1,4.5,0],
[0,0,0,0,4,0,1, 6,6,6,2,1,0,5, 0,3,0,0,0,0, 1,3,3,4,1,2,3, 2,5,4,0,11, 6,5,2, 2,0,2, 0,2,5,0]];
const fTitles=["WT","Dnmt1","Dnmt3a","Dnmt3b","G9a","Eed","Rnf2","Kdm2b","L3mbtl2","Kmt2a","Kmt2b"];
const fSeries=[fWT,fDnmt1,fDnmt3a,fDnmt3b,fG9a,fEed,fRnf2,fKdm2b,fL3mbtl2,fKmt2a,fKmt2b];
const fSexes=["fmffffffmf","fmffffffffmm","mmmmmmmmfm","mmffffff","fffmfmmmmmf","mmffmmmfff","mffffmmmfmf","fmffmmmmmf","mmfmmmmffm","fmmmfmmmmfm","mmmfmfmffm"];

// ---------- helpers ----------
const svg=d3.select("body").append("svg").attr("width",1429).attr("height",1920);
function T(x,y,s,o={}){
  const t=svg.append("text").attr("x",x).attr("y",y).attr("dy",".35em").text(s)
    .style("font-size",(o.size||14)+"px").attr("text-anchor",o.anchor||"start");
  if(o.fill)t.style("fill",o.fill);if(o.weight)t.style("font-weight",o.weight);if(o.italic)t.style("font-style","italic");
  if(o.rot!==undefined)t.attr("dy",o.dy||".35em").attr("transform",`rotate(${o.rot} ${x} ${y})`);
  return t;
}
function L(x1,y1,x2,y2,c="#222",w=1){svg.append("line").attr("x1",x1).attr("y1",y1).attr("x2",x2).attr("y2",y2).attr("stroke",c).attr("stroke-width",w);}
function yAxis(x,y,ticks,fmt,size=14){
  const g=svg.append("g").attr("transform",`translate(${x},0)`)
    .call(d3.axisLeft(y).tickValues(ticks).tickSize(4).tickPadding(3).tickFormat(fmt||d3.format("d")));
  g.select(".domain").attr("stroke","#222").attr("stroke-width",1.6).attr("d",`M0,${y.range()[0]}V${y.range()[1]}`);
  g.selectAll(".tick line").attr("stroke","#222");
  g.selectAll(".tick text").style("font-size",size+"px").style("font-family",'"Liberation Sans",Arial,sans-serif').style("fill","#222");
  return g;
}
function box(cx,w,y,rec,fill,o={}){
  const [q1,m,q3,lo,hi,...out]=rec;const g=svg.append("g");
  g.append("line").attr("x1",cx).attr("x2",cx).attr("y1",y(lo)).attr("y2",y(hi)).attr("stroke",o.whisk||"#111").attr("stroke-width",o.ww||1.3);
  g.selectAll("circle").data(out).join("circle").attr("cx",cx).attr("cy",d=>y(d)).attr("r",o.r||1.6).attr("fill",o.dot||"#111");
  g.append("rect").attr("x",cx-w/2).attr("width",w).attr("y",y(q3)).attr("height",y(q1)-y(q3)).attr("fill",fill).attr("stroke",o.stroke||"#222").attr("stroke-width",o.sw||1.1);
  g.append("line").attr("x1",cx-w/2).attr("x2",cx+w/2).attr("y1",y(m)).attr("y2",y(m)).attr("stroke",o.med||"#333").attr("stroke-width",o.mw||1.2);
}
// panel letters
[["a",5,12],["b",5,409],["c",5,628],["d",5,845],["e",761,1084],["f",5,1323]].forEach(d=>T(d[1],d[2],d[0],{size:21,weight:"bold",fill:"#000"}));

// ---------- panel a ----------
const colX=d3.scalePoint().domain(genes).range([158,931]);
genes.forEach((g,i)=>{if(i%2==0)svg.append("rect").attr("x",colX(g)-43).attr("width",86).attr("y",32).attr("height",336).attr("fill","#ececec");});
[[122,368,245],[464,798,631],[807,969,888]].forEach((d,i)=>{L(d[0],25,d[1],25,"#222",1.3);T(d[2],12,aGroups[i],{size:19,anchor:"middle"});});
L(115,32,115,368,"#333",1.2);
[59,66,273,282].forEach(y=>L(19,y,974,y,"#222",1.3));
L(991,67,991,267,"#222",1.2);L(991,289,991,368,"#222",1.2);
T(1005,167,"Target gene overview",{size:16,anchor:"middle",rot:90});
T(1005,329,"Samples",{size:16,anchor:"middle",rot:90});
genes.forEach(g=>T(colX(g),44,g,{size:16,anchor:"middle"}));
const aRows=[["~Lethality",91,aLethality,0],["Target",126,aTarget,16.5],["Modification",161,aModification,16],["Complex",189,aComplex,0],["Function",217,aFunction,14.5],["",249,aRepress,0],["#Embryos",301,aEmbryos,0],["Sex (m/f)",327,aSex,0],["#Cells",353,aCells,0]];
aRows.forEach(([lab,y,vals,lh])=>{
  if(lab)T(19,y,lab,{size:16});
  vals.forEach((v,i)=>{const parts=v.split("|");parts.forEach((p,k)=>{
    T(colX(genes[i]),y+(k-(parts.length-1)/2)*lh,p,{size:16,anchor:"middle",italic:p==="de novo"});});});
});
T(19,242,"Repressive/",{size:16});T(19,258,"inductive",{size:16});

// ---------- panel b ----------
const groupStart=d3.scaleLinear().domain([0,9]).range([100,970]);
const yB=d3.scaleLinear().domain([0,1]).range([574,429]);
yAxis(86,yB,[0,.25,.5,.75,1],d3.format(".2f"));
T(27,502,"Fraction positive cells",{size:16,anchor:"middle",rot:-90});
genes.forEach((g,i)=>{const s=groupStart(i);L(s,583,s+81,583,"#222",1.6);T(s+41,595,g,{size:16,anchor:"middle"});
  const xb=d3.scaleLinear().domain([0,4]).range([s+10,s+68.5]);
  bSeries[i].forEach((r,j)=>box(xb(j),13,yB,r,bColors[j],{stroke:"#333",med:"#444",r:1.4}));
});
T(1094,471,"Embryonic day",{size:13.5});T(1204,471,"Embryos",{size:13.5});
const bLegY=d3.scaleLinear().domain([0,4]).range([487,542]);
bDays.forEach((d,i)=>{const y=bLegY(i);
  svg.append("rect").attr("x",1150).attr("y",y-5.5).attr("width",10).attr("height",11).attr("fill",bColors[i]).attr("stroke","#999").attr("stroke-width",.5);
  T(1165,y,d,{size:13.5});
  const t=T(1204,y,"(",{size:13.5});t.append("tspan").style("font-style","italic").text("n");t.append("tspan").attr("xml:space","preserve").text(" = "+bN[i].trim()+")");
});

// ---------- panel c ----------
const yC=d3.scaleLinear().domain([0,1]).range([783.3,645.8]);
yAxis(86,yC,[0,.25,.5,.75,1],d3.format(".2f"));
T(27,717,"Fraction positive cells",{size:16,anchor:"middle",rot:-90});
genes.forEach((g,i)=>{const s=groupStart(i);L(s,793,s+81,793,"#222",1.6);T(s+41,804,g,{size:16,anchor:"middle"});
  const xb=d3.scaleLinear().domain([0,7]).range([s+5,s+75.5]);
  cSeries[i].forEach((r,j)=>box(xb(j),8,yC,r,cColors[j],{stroke:"#111",med:j==0?"#555":"#333",r:1.7,ww:1.2}));
});
const cLegY=d3.scaleLinear().domain([0,7]).range([666,753]);
cLegendLabels.forEach((d,i)=>{const y=cLegY(i);T(1140,y,d,{size:13.5,fill:i==0?"#222":cColors[i]=="#ffe93b"?"#ffe93b":cColors[i]});
  const t=T(1192,y,"(",{size:13.5});t.append("tspan").style("font-style","italic").text("n");t.append("tspan").text(" = "+cN[i]+")");});

// ---------- panel d ----------
const dCharts=[
 {g:"Dnmt1",v:dDnmt1,t:dTicks1,ax:87,first:99.6,step:38.4,dom:745,r:[1008,865],row:0},
 {g:"Dnmt3a",v:dDnmt3a,t:dTicks2,ax:280,first:292.5,step:39.7,dom:1577,r:[1008,865],row:0},
 {g:"Dnmt3b",v:dDnmt3b,t:dTicks3,ax:483,first:493.6,step:40.2,dom:356,r:[1007.5,865],row:0},
 {g:"G9a",v:dG9a,t:dTicks4,ax:646.5,first:659.3,step:39.7,dom:480,r:[1008,863],row:0},
 {g:"Eed",v:dEed,t:dTicks5,ax:805,first:816.7,step:39.7,dom:97,r:[1007.5,862.5],row:0},
 {g:"Rnf2",v:dRnf2,t:dTicks6,ax:969,first:980.5,step:40,dom:187,r:[1008.5,866],row:0},
 {g:"Kdm2b",v:dKdm2b,t:dTicks7,ax:1126,first:1138.6,step:40.4,dom:66,r:[1008.7,866],row:0},
 {g:"L3mbtl2",v:dL3mbtl2,t:dTicks8,ax:1285,first:1297.7,step:40.6,dom:26,r:[1009,866.7],row:0},
 {g:"Kmt2a",v:dKmt2a,t:dTicks9,ax:86.3,first:97.3,step:39.2,dom:106,r:[1243.3,1101.7],row:1},
 {g:"Kmt2b",v:dKmt2b,t:dTicks10,ax:280,first:293,step:40,dom:104.5,r:[1243.3,1101.7],row:1}];
const dStack=d3.stack().keys([0,1,2,3]).value((d,k)=>d[k]);
dCharts.forEach(c=>{
  const y=d3.scaleLinear().domain([0,c.dom]).range(c.r);
  const yBase=c.row?1246.7:1011, yBr=c.row?1098:859.5, yNum=c.row?1091.7:853;
  yAxis(c.ax,y,c.t);
  const xOf=i=>c.first+Math.floor(i/2)*c.step+(i%2)*15.8;
  dStack(c.v).forEach((s,k)=>{
    svg.append("g").selectAll("rect").data(s).join("rect")
      .attr("x",(d,i)=>xOf(i)-5.5).attr("width",11).attr("y",d=>y(d[1])).attr("height",d=>Math.max(0,y(d[0])-y(d[1])))
      .attr("fill",dColors[k]).attr("stroke",k==3?"#3a4480":"#888").attr("stroke-width",.7);
  });
  for(let p=0;p<c.v.length/2;p++){
    const a=xOf(2*p),b=xOf(2*p+1);
    L(a-6,yBase,b+6.5,yBase,"#222",1.8);L(a,yBase,a,yBase+3,"#222",1);L(b,yBase,b,yBase+3,"#222",1);
    svg.append("path").attr("d",`M${a-1},${yBr+3}V${yBr}H${b+1}V${yBr+3}`).attr("fill","none").attr("stroke","#222").attr("stroke-width",1.2);
    T((a+b)/2,yNum,String(p+1),{size:13.5,anchor:"middle"});
    [["WT",a],[c.g,b]].forEach(([lab,x])=>T(x-5,yBase+10,lab,{size:15,rot:55}));
  }
});
T(36,853,"sgRNA",{size:13.5});T(36,1091.7,"sgRNA",{size:13.5});
T(27.5,1042,"Number of reads",{size:17,anchor:"middle",rot:-90});
[[448.6,1171,3,"Mismatched",467.4],[448.6,1191,2,"Spliced/deleted",467.4],[577.6,1171,1,"Insufficient",597],[577.6,1191,0,"Complete",597]].forEach(d=>{
  svg.append("rect").attr("x",d[0]).attr("y",d[1]-7).attr("width",13.7).attr("height",14).attr("fill",dColors[d[2]]).attr("stroke","#777").attr("stroke-width",.8);
  T(d[4],d[1],d[3],{size:13.5});
});

// ---------- panel e ----------
const yE=d3.scaleLinear().domain([5,15]).range([1225,1144]);
const xE=d3.scalePoint().domain(eGroups).range([844.6,844.6+314]);
svg.append("g").attr("transform","translate(826,0)").call(d3.axisLeft(yE).tickValues([5,10,15]).tickSize(4).tickPadding(3))
  .call(g=>{g.select(".domain").attr("d","M0,1246.7V1101.7").attr("stroke","#222").attr("stroke-width",1.6);
    g.selectAll("text").style("font-size","14px").style("font-family",'"Liberation Sans",Arial,sans-serif');});
svg.append("g").attr("transform","translate(0,1246.7)").call(d3.axisBottom(xE).tickSize(4).tickFormat(""))
  .call(g=>{g.select(".domain").attr("d","M826,0H1174.4").attr("stroke","#222").attr("stroke-width",1.6);});
eGroups.forEach((g,i)=>{
  const cx=xE(g);
  box(cx-5.8,10,yE,eClosest[i],"#1f8a3a",{stroke:"#333",med:"#222",r:.6,dot:"#555",whisk:"#333",ww:1.1,mw:1.5,sw:1.2});
  box(cx+5.6,10,yE,eSecond[i],"#c6c6c6",{stroke:"#444",med:"#222",r:.6,dot:"#555",whisk:"#333",ww:1.1,mw:1.5,sw:1.2});
  T(cx-4,1256,g,{size:15,rot:55});
});
T(790.7,1175,"Euclidean distance",{size:17,anchor:"middle",rot:-90});
[["#1f8a3a",1166.7],["#c6c6c6",1185.3]].forEach(d=>{
  L(1220.3,d[1]-8,1220.3,d[1]+8,"#333",1);
  svg.append("rect").attr("x",1215).attr("y",d[1]-5).attr("width",10.5).attr("height",10).attr("fill",d[0]).attr("stroke","#444");
  L(1215,d[1],1225.5,d[1],"#222",1);
});
T(1229,1166.7,"Closest cell state",{size:13.5});
const sec=T(1229,1185.3,"2",{size:13.5});sec.append("tspan").attr("dy","-4").style("font-size","8px").text("nd");sec.append("tspan").attr("dy","4").text(" closest cell state");

// ---------- panel f ----------
const fPanels=[[63.4,237.8,0],[254,470.6,0],[486,662.5,0],[678,817.7,0],[833.5,1025.6,0],[1041,1216,0],[1231,1423.7,0],[63.3,227,1],[240.8,404.6,1],[420,598.5,1],[614,777.6,1]];
const fRows=[{top:1378,bot:1582.3,title:1332.7,line:1345,sex:1362,bl:1592.7},{top:1671,bot:1861.5,title:1629,line:1640.7,sex:1656,bl:1870.7}];
const stackF=d3.stack().keys(d3.range(stateIds.length).reverse()).value((d,k)=>d[k]).offset(d3.stackOffsetExpand);
fRows.forEach(r=>{
  const y=d3.scaleLinear().domain([0,100]).range([r.bot,r.top]);
  yAxis(56.5,y,[0,25,50,75,100],null,13);
});
fPanels.forEach((p,i)=>{
  const r=fRows[p[2]],data=fSeries[i],n=data.length;
  const x=d3.scaleBand().domain(d3.range(1,n+1)).range([p[0],p[1]]);
  const y=d3.scaleLinear().domain([0,1]).range([r.bot,r.top]);
  stackF(data).forEach(s=>{
    svg.append("g").selectAll("rect").data(s).join("rect")
      .attr("x",(d,j)=>x(j+1)).attr("width",x.bandwidth()+.3).attr("y",d=>y(d[1])).attr("height",d=>y(d[0])-y(d[1]))
      .attr("fill",stateColors[s.key]);
  });
  L(p[0],r.line,p[1],r.line,"#222",1.5);
  T((p[0]+p[1])/2,r.title,fTitles[i],{size:16,anchor:"middle"});
  fSexes[i].split("").forEach((c,j)=>{
    T(x(j+1)+x.bandwidth()/2,r.sex,(c=="f"?"\u2640":"\u2642")+"\uFE0E",{size:20,anchor:"middle"}).style("font-family","'DejaVu Sans'");
  });
  svg.append("g").attr("transform",`translate(0,${r.bl})`).call(d3.axisBottom(x).tickSize(4).tickPadding(4))
    .call(g=>{g.select(".domain").attr("d",`M${p[0]},0H${p[1]}`).attr("stroke","#222").attr("stroke-width",1.6);
      g.selectAll("text").style("font-size","13.5px").style("font-family",'"Liberation Sans",Arial,sans-serif').style("fill","#222");});
});
T(11.5,1612,"Percent of cells",{size:16,anchor:"middle",rot:-90});
T(437.8,1906,"Embryos",{size:16,anchor:"middle"});
const fLegY=d3.scaleLinear().domain([0,20]).range([1641.7,1900.6]);
stateIds.forEach((id,i)=>{
  const col=i<21?0:1,y=fLegY(col?i-21:i),sx=col?1123.9:831.7,nx=col?1143.6:851.5,lx=col?1163.3:872;
  svg.append("rect").attr("x",sx).attr("y",y-6.47).attr("width",14.6).attr("height",12.94).attr("fill",stateColors[i]);
  const b=id===17?"bold":null;
  T(nx,y,String(id),{size:13.5,weight:b,fill:"#111"});T(lx,y,stateNames[i],{size:13.5,weight:b,fill:b?"#111":"#333"});
});
</script></body></html>
